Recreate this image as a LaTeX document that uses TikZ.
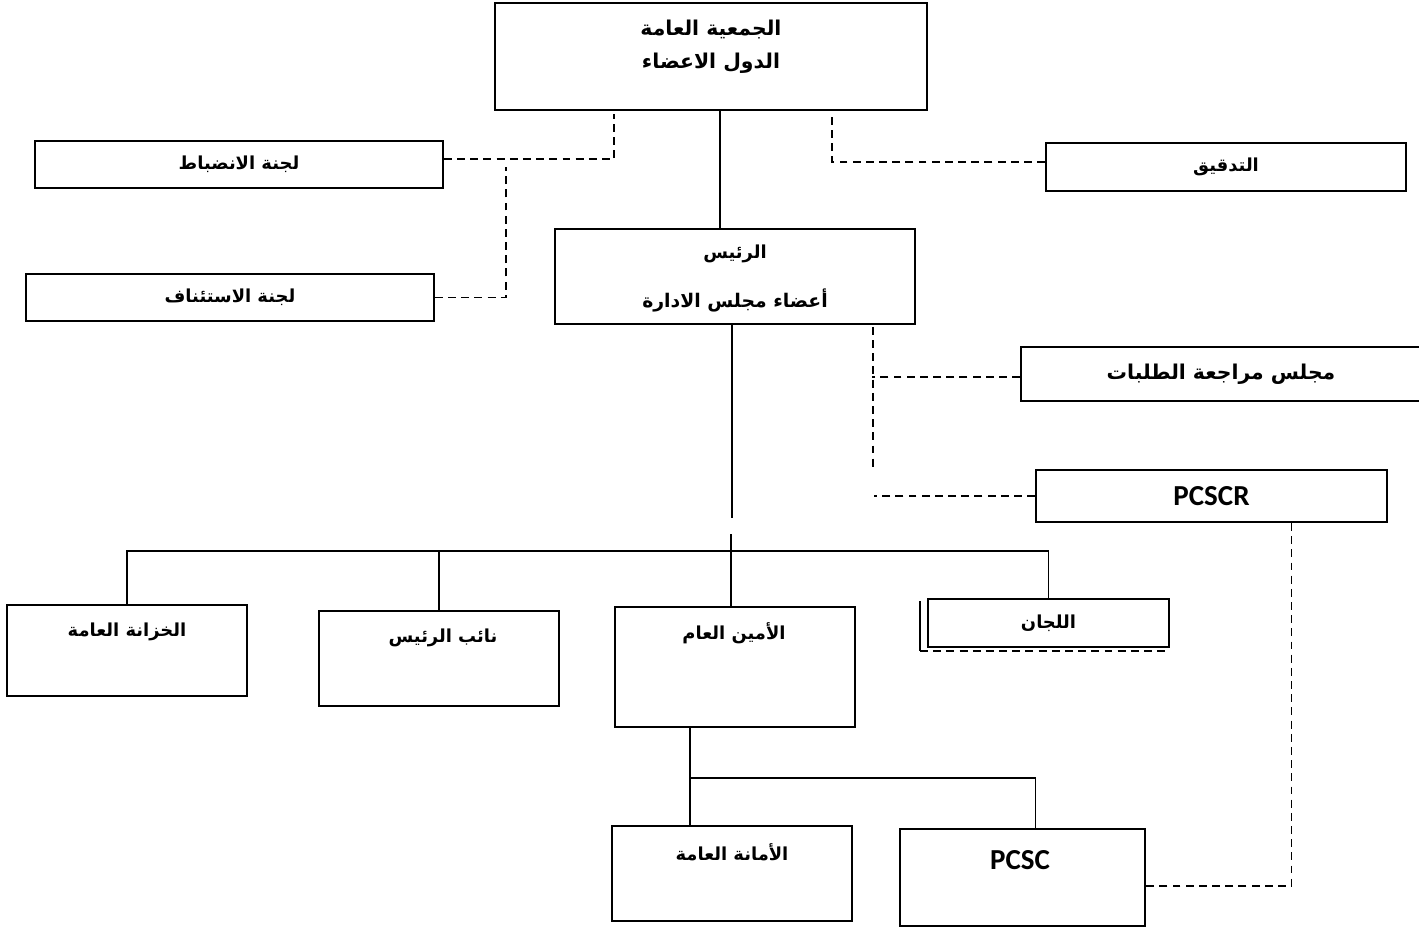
\documentclass[tikz,border=0pt]{standalone}
\usepackage{fontspec}
\setmainfont{Liberation Sans}
\newfontfamily\arabicfont[Script=Arabic]{DejaVu Sans}
\newfontfamily\latinfont{Carlito}
\TeXXeTstate=1
\newcommand\artxt[1]{{\arabicfont\bfseries\beginR #1\endR}}
\newcommand\lattxt[1]{{\latinfont\bfseries\fontsize{16.5}{18}\selectfont #1}}
\usetikzlibrary{calc,positioning}
\tikzset{
    box/.style={rectangle, draw, line width=1.1pt, inner sep=0pt},
    link/.style={line width=1.1pt},
    dline/.style={line width=0.95pt, dash pattern=on 4.5pt off 3pt},
    lbl/.style={inner sep=1pt, font=\fontsize{10.2}{19}\selectfont, align=center},
    big/.style={font=\fontsize{11.6}{19}\selectfont}
}

\begin{document}
\begin{tikzpicture}[x=0.02cm, y=-0.02cm]
\useasboundingbox (0,0) rectangle (1419,927);

% top levels
\node[box, minimum width=8.64cm, minimum height=2.14cm] (ga) at (711,56.5) {};
\node[lbl, big] (gaT) at (711,47) {\artxt{الجمعية العامة}\\\artxt{الدول الاعضاء}};
\node[box, lbl, minimum width=8.16cm, minimum height=0.94cm] (disc) at (239,164.5) {\artxt{لجنة الانضباط}};
\node[box, lbl, minimum width=8.16cm, minimum height=0.94cm] (appeal) at (230,297.5) {\artxt{لجنة الاستئناف}};
\node[box, lbl, minimum width=7.2cm, minimum height=0.96cm] (audit) at (1226,167) {\artxt{التدقيق}};
\node[box, minimum width=7.2cm, minimum height=1.9cm] (pres) at (735,276.5) {};
\node[lbl] (presT) at (735,254) {\artxt{الرئيس}};
\node[lbl, font=\fontsize{10.7}{19}\selectfont] (presB) at (735,300) {\artxt{أعضاء مجلس الادارة}};
\node[box, lbl, big, minimum width=8cm, minimum height=1.08cm] (review) at (1221,374) {\artxt{مجلس مراجعة الطلبات}};
\node[box, lbl, minimum width=7.02cm, minimum height=1.04cm] (pcscr) at (1211.5,496) {\lattxt{PCSCR}};

% lower levels
\node[box, minimum width=4.8cm, minimum height=1.82cm] (treas) at (127,650.5) {};
\node[lbl] (treasT) at (127,632) {\artxt{الخزانة العامة}};
\node[box, minimum width=4.8cm, minimum height=1.9cm] (vp) at (439,658.5) {};
\node[lbl] (vpT) at (443,638) {\artxt{نائب الرئيس}};
\node[box, minimum width=4.8cm, minimum height=2.4cm] (sg) at (735,667) {};
\node[lbl] (sgT) at (734,633) {\artxt{الأمين العام}};
\node[box, lbl, minimum width=4.82cm, minimum height=0.96cm, fill=white] (comm) at (1048.5,623) {\artxt{اللجان}};
\node[box, minimum width=4.8cm, minimum height=1.9cm] (gs) at (732,873.5) {};
\node[lbl] (gsT) at (732,852) {\artxt{الأمانة العامة}};
\node[box, minimum width=4.9cm, minimum height=1.94cm] (pcsc) at (1022.5,877.5) {};
\node[lbl] (pcscT) at (1020,860) {\lattxt{PCSC}};

\coordinate (j1) at (506,167);
\coordinate (rv) at (872,377);
\coordinate (bus) at (731,551);
\coordinate (sgj) at (690,778);

% solid links
\draw[link] ($(ga.south)+(9,0)$) -- ($(pres.north)+(-15,0)$);
\draw[link] ($(pres.south)+(-3,0)$) -- ++(0,193);
\draw[link] (treas.north) |- (bus) -| (comm.north);
\draw[link] (vp.north) -- (vp.north |- bus);
\draw[link] (sg.north -| bus) -- ++(0,-72);
\draw[link] (sg.south -| sgj) -- (gs.north -| sgj);
\draw[link] (sgj) -| ($(pcsc.north)+(13,0)$);

% dashed links
\draw[dline] ([yshift=3pt]disc.east) -| ($(ga.south west)+(120,3)$);
\draw[dline] (appeal.east) -| (j1);
\draw[dline] ([yshift=3pt]audit.west) -| ($(ga.south east)+(-96,3)$);
\draw[dline] ($(pres.south east)+(-43,2)$) -- ++(0,141);
\draw[dline] (review.west |- rv) -- (rv);
\draw[dline] (pcscr.west) -- ++(-161,0);
\draw[dline] ($(pcscr.south)+(80,0)$) |- ([yshift=-5pt]pcsc.east);

% committee shadow
\draw[line width=0.7pt] ($(comm.north west)+(-7,3)$) -- ($(comm.south west)+(-7,3)$);
\draw[dline] ($(comm.south west)+(-7,3)$) -- ($(comm.south east)+(0,3)$);
\end{tikzpicture}
\end{document}
